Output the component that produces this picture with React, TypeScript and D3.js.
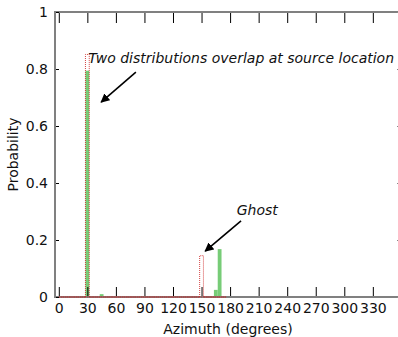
import { useEffect, useRef } from 'react';
import * as d3 from 'd3';

// bin width in degrees
const BIN = 4;

// observed distribution (green bars): bin start azimuth, probability
const greenStart = [28, 43, 163, 167];
const greenProb = [0.794, 0.01, 0.025, 0.168];

// predicted distribution (red dotted outline), bins of 4 degrees from 0 to 176
const redProb = [
  0, 0, 0, 0, 0, 0, 0, 0.851, 0, 0,
  0, 0, 0, 0, 0, 0, 0, 0, 0, 0,
  0, 0, 0, 0, 0, 0, 0, 0, 0, 0,
  0, 0, 0, 0, 0, 0, 0, 0.145, 0, 0,
  0, 0, 0, 0,
];

const xTicks = [0, 30, 60, 90, 120, 150, 180, 210, 240, 270, 300, 330];
const yTicks = [0, 0.2, 0.4, 0.6, 0.8, 1];

const W = 398;
const H = 337;

export default function App() {
  const svgRef = useRef<SVGSVGElement>(null);

  useEffect(() => {
    if (!svgRef.current) return;
    const svg = d3.select(svgRef.current);
    svg.selectAll('*').remove();

    const left = 55, right = 401, top = 12, bottom = 297;
    const x = d3.scaleLinear().domain([-4, 359.6]).range([left, right]);
    const y = d3.scaleLinear().domain([0, 1]).range([bottom, top]);
    const font = 'DejaVu Sans, sans-serif';
    const fs = 14;

    // green bars
    svg.append('g')
      .selectAll('rect')
      .data(greenStart.map((s, i) => ({ s, v: greenProb[i] })))
      .enter()
      .append('rect')
      .attr('x', d => x(d.s))
      .attr('width', d => x(d.s + BIN) - x(d.s))
      .attr('y', d => y(d.v))
      .attr('height', d => y(0) - y(d.v))
      .attr('fill', '#77cc77');

    // axes frame
    svg.append('rect')
      .attr('x', left).attr('y', top)
      .attr('width', right - left).attr('height', bottom - top)
      .attr('fill', 'none')
      .attr('stroke', '#808080')
      .attr('stroke-width', 2);

    // red dotted outline bars
    svg.append('g')
      .selectAll('path')
      .data(redProb.map((v, i) => ({ s: i * BIN, v })))
      .enter()
      .append('path')
      .attr('d', d => {
        const x0 = x(d.s), x1 = x(d.s + BIN), y0 = y(0), y1 = y(d.v);
        return `M${x0},${y0}L${x0},${y1}L${x1},${y1}L${x1},${y0}Z`;
      })
      .attr('fill', 'none')
      .attr('stroke', '#cc2222')
      .attr('stroke-width', 1)
      .attr('stroke-dasharray', '1,1')
      .attr('opacity', 0.85);

    const styleAxis = (g: d3.Selection<SVGGElement, unknown, null, undefined>) => {
      g.select('.domain').remove();
      g.selectAll('.tick line').attr('stroke', '#000').attr('stroke-width', 1);
      g.selectAll('.tick text')
        .attr('font-family', font)
        .attr('font-size', fs)
        .attr('fill', '#111');
    };

    // bottom axis, inward ticks
    svg.append('g')
      .attr('transform', `translate(0,${bottom - 1})`)
      .call(d3.axisBottom(x).tickValues(xTicks).tickSizeInner(-9).tickSizeOuter(0).tickPadding(7))
      .call(styleAxis);

    // top axis, inward ticks, no labels
    svg.append('g')
      .attr('transform', `translate(0,${top + 1})`)
      .call(d3.axisTop(x).tickValues(xTicks).tickSizeInner(-10).tickSizeOuter(0).tickFormat(() => ''))
      .call(styleAxis);

    // left axis
    svg.append('g')
      .attr('transform', `translate(${left + 1},0)`)
      .call(d3.axisLeft(y).tickValues(yTicks).tickSizeInner(-3).tickSizeOuter(0).tickPadding(8)
        .tickFormat(d => (d === 0 || d === 1 ? String(d) : d3.format('.1f')(d as number))))
      .call(styleAxis);

    // right axis
    svg.append('g')
      .attr('transform', `translate(${right - 1},0)`)
      .call(d3.axisRight(y).tickValues(yTicks).tickSizeInner(-3).tickSizeOuter(0).tickFormat(() => ''))
      .call(styleAxis)
      .selectAll('.tick line').attr('stroke', '#888');

    // annotations
    const defs = svg.append('defs');
    defs.append('marker')
      .attr('id', 'head')
      .attr('viewBox', '0 0 10 10')
      .attr('refX', 9).attr('refY', 5)
      .attr('markerWidth', 9).attr('markerHeight', 9)
      .attr('markerUnits', 'userSpaceOnUse')
      .attr('orient', 'auto')
      .append('path')
      .attr('d', 'M0,0L10,5L0,10Z')
      .attr('fill', '#000');

    const arrow = (x0: number, y0: number, x1: number, y1: number) => {
      svg.append('line')
        .attr('x1', x(x0)).attr('y1', y(y0))
        .attr('x2', x(x1)).attr('y2', y(y1))
        .attr('stroke', '#000').attr('stroke-width', 1.6)
        .attr('marker-end', 'url(#head)');
    };

    svg.append('text')
      .attr('x', x(31)).attr('y', y(0.82))
      .attr('font-family', font).attr('font-size', fs)
      .attr('font-style', 'italic')
      .attr('fill', '#111')
      .text('Two distributions overlap at source location');
    arrow(81, 0.789, 44.5, 0.684);

    svg.append('text')
      .attr('x', x(208.5)).attr('y', y(0.305))
      .attr('dy', '0.35em')
      .attr('text-anchor', 'middle')
      .attr('font-family', font).attr('font-size', fs)
      .attr('font-style', 'italic')
      .attr('fill', '#111')
      .text('Ghost');
    arrow(191.5, 0.267, 153.8, 0.161);

    // axis titles
    svg.append('text')
      .attr('x', (left + right) / 2).attr('y', bottom + 37)
      .attr('text-anchor', 'middle')
      .attr('font-family', font).attr('font-size', fs)
      .attr('fill', '#111')
      .text('Azimuth (degrees)');

    svg.append('text')
      .attr('transform', `translate(18,${(top + bottom) / 2}) rotate(-90)`)
      .attr('text-anchor', 'middle')
      .attr('font-family', font).attr('font-size', fs)
      .attr('fill', '#111')
      .text('Probability');
  }, []);

  return (
    <svg
      ref={svgRef}
      width={W}
      height={H}
      style={{ position: 'absolute', left: 0, top: 0, background: '#fff' }}
    />
  );
}
